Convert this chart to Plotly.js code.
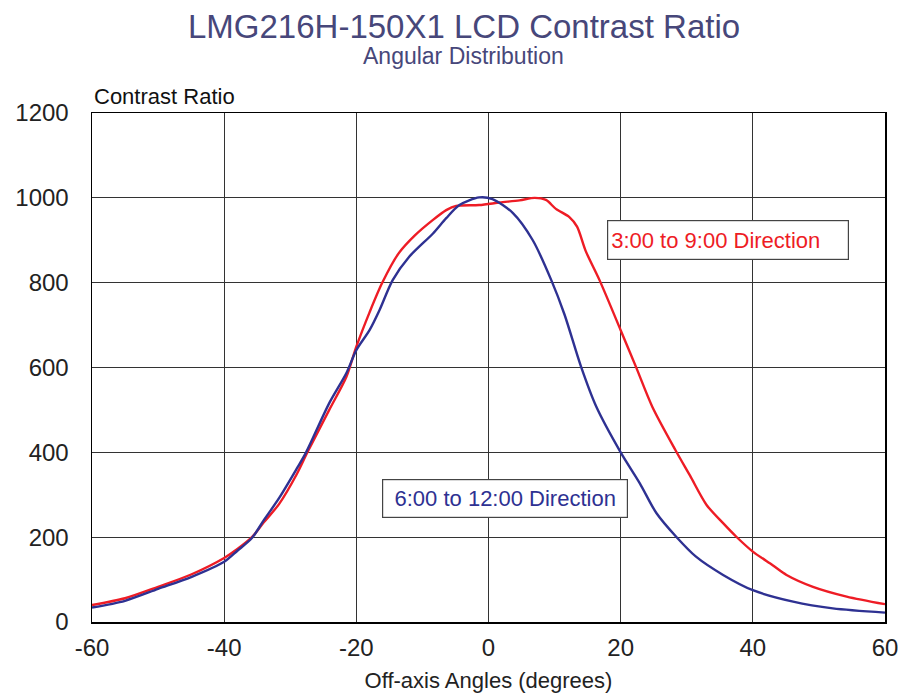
<!DOCTYPE html>
<html>
<head>
<meta charset="utf-8">
<script src="https://cdn.plot.ly/plotly-3.0.1.min.js"></script>
<style>html,body{margin:0;padding:0;background:#fff;}#chart{width:898px;height:694px;}</style>
</head>
<body>
<div id="chart"></div>
<script>
// 3:00 to 9:00 direction (red)
const redAngles = [-60,-55,-50,-45,-40,-38,-35.8,-34,-31.7,-29,-27.4,-24.1,-21.5,-20,-18,-16.1,-13.6,-11.1,-8.4,-6.4,-4.9,-1.4,1.7,4.7,7,8.7,10.2,12.2,13.4,14.7,16.8,20,22.3,24.8,28.3,30.5,33,35.5,37.5,40,43,45.1,49.1,54.2,60];
const redValues = [40,56,83,112,151,172,200,235,278,349,400,500,578,649,730,799,869,912,948,971,981,983,989,994,1000,995,974,955,932,875,806,688,602,507,405,345,276,233,201,166,134,111,83,60,42];
// 6:00 to 12:00 direction (blue)
const blueAngles = [-60,-55,-50,-45,-40,-38,-35.8,-34,-31.7,-29,-27.6,-24.1,-21.5,-20,-18,-16.5,-14.5,-12,-8.4,-6.4,-4.4,-1.4,0.6,3.7,6.7,9.5,11.5,14,16.3,20,22.9,25.4,28.4,31.4,35.5,40,46.1,52.1,60];
const blueValues = [34,50,78,106,142,168,198,240,292,362,400,516,587,641,688,735,806,861,916,952,983,1001,997,964,900,806,725,602,508,400,327,257,201,154,111,75,48,32,22];
const xTicks = [-60,-40,-20,0,20,40,60];
const xTickLabels = ['-60','-40','-20','0','20','40','60'];
const yTicks = [0,200,400,600,800,1000,1200];

const traces = [
  {x: redAngles, y: redValues, mode:'lines', line:{color:'#ee1c25', width:2.4, shape:'spline', smoothing:0.8}, name:'3:00 to 9:00 Direction'},
  {x: blueAngles, y: blueValues, mode:'lines', line:{color:'#2e3192', width:2.4, shape:'spline', smoothing:0.8}, name:'6:00 to 12:00 Direction'}
];

const font = 'Liberation Sans, Arial, sans-serif';
const layout = {
  width: 898, height: 694,
  margin: {l:92, r:13, t:113, b:72},
  paper_bgcolor:'#fff', plot_bgcolor:'#fff',
  showlegend:false,
  font:{family:font, color:'#000'},
  xaxis:{range:[-60,60], tickvals:xTicks, ticktext:xTickLabels, ticks:'', showline:true, linecolor:'#000', linewidth:1.5, mirror:true,
    showgrid:true, gridcolor:'#333', gridwidth:1, zeroline:false, tickfont:{size:24, color:'#222'}, ticklabelstandoff:4,
    ticklabeloverflow:'allow',
    title:{text:'Off-axis Angles (degrees)', font:{size:22, color:'#222'}, standoff:12}},
  yaxis:{range:[0,1200], tickvals:yTicks, ticks:'', showline:true, linecolor:'#000', linewidth:1.5, mirror:true,
    showgrid:true, gridcolor:'#333', gridwidth:1, zeroline:false, tickfont:{size:24, color:'#222'}, ticklabelstandoff:17,
    ticklabeloverflow:'allow'},
  annotations:[
    {text:'LMG216H-150X1 LCD Contrast Ratio', xref:'paper', yref:'paper', x:0.469, y:1, yshift:87, xanchor:'center', yanchor:'middle', showarrow:false,
      font:{size:33, color:'#47477a', family:font}},
    {text:'Angular Distribution', xref:'paper', yref:'paper', x:0.469, y:1, yshift:57, xanchor:'center', yanchor:'middle', showarrow:false,
      font:{size:23, color:'#47477a', family:font}},
    {text:'Contrast Ratio', xref:'paper', yref:'paper', x:0, y:1, yshift:17, xanchor:'left', yanchor:'middle', showarrow:false,
      font:{size:22, color:'#111', family:font}},
    {text:'3:00 to 9:00 Direction', x:36.17, y:900, xanchor:'center', yanchor:'middle', showarrow:false, align:'left',
      width:234, height:32, font:{size:22, color:'#ee1c25', family:font}, bordercolor:'#444', borderwidth:1.2, bgcolor:'#fff', borderpad:3},
    {text:'6:00 to 12:00 Direction', x:2.5, y:292, xanchor:'center', yanchor:'middle', showarrow:false, align:'center',
      width:238, height:31, font:{size:22, color:'#2e3192', family:font}, bordercolor:'#444', borderwidth:1.2, bgcolor:'#fff', borderpad:3}
  ]
};
Plotly.newPlot('chart', traces, layout, {displayModeBar:false, staticPlot:true});
</script>
</body>
</html>
